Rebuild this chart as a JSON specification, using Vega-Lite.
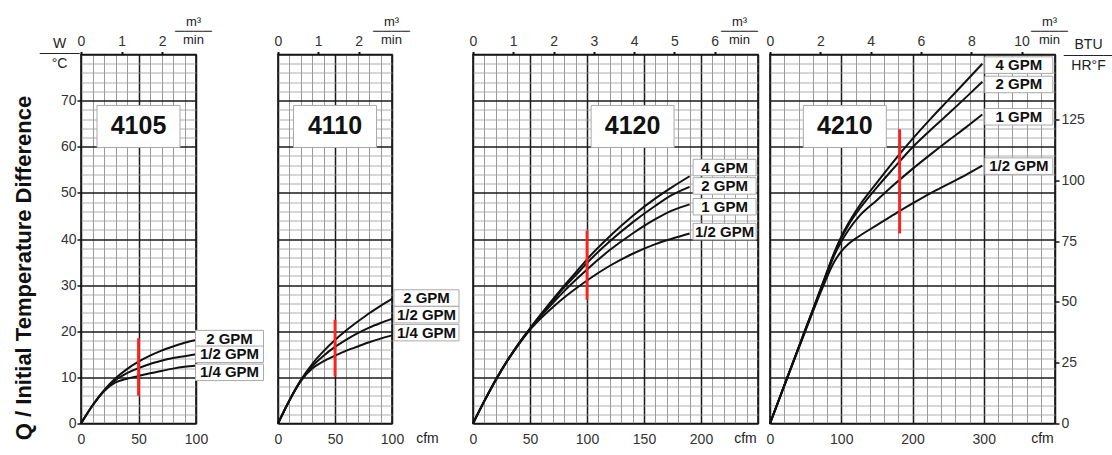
{
  "$schema": "https://vega.github.io/schema/vega-lite/v6.json",
  "padding": {"left": 11, "top": 13.5, "right": 0, "bottom": 0},
  "background": "white",
  "config": {
    "font": "Liberation Sans",
    "view": {"stroke": "#111", "strokeWidth": 1.6},
    "axis": {"labelFont": "Liberation Sans", "titleFont": "Liberation Sans", "labelColor": "#333", "titleColor": "#222", "labelFontSize": 14, "labelFlush": false, "labelOverlap": false, "domain": false}
  },
  "datasets": {
    "curves": [
      {"panel":"4105","flow":"2 GPM","cfm":0,"q":0},{"panel":"4105","flow":"2 GPM","cfm":10,"q":3.9},{"panel":"4105","flow":"2 GPM","cfm":20,"q":7.2},{"panel":"4105","flow":"2 GPM","cfm":30,"q":9.8},{"panel":"4105","flow":"2 GPM","cfm":40,"q":11.8},{"panel":"4105","flow":"2 GPM","cfm":50,"q":13.4},{"panel":"4105","flow":"2 GPM","cfm":60,"q":14.7},{"panel":"4105","flow":"2 GPM","cfm":70,"q":15.8},{"panel":"4105","flow":"2 GPM","cfm":80,"q":16.7},{"panel":"4105","flow":"2 GPM","cfm":90,"q":17.5},{"panel":"4105","flow":"2 GPM","cfm":100,"q":18.1},
      {"panel":"4105","flow":"1/2 GPM","cfm":0,"q":0},{"panel":"4105","flow":"1/2 GPM","cfm":10,"q":3.9},{"panel":"4105","flow":"1/2 GPM","cfm":20,"q":7.1},{"panel":"4105","flow":"1/2 GPM","cfm":30,"q":9.4},{"panel":"4105","flow":"1/2 GPM","cfm":40,"q":10.9},{"panel":"4105","flow":"1/2 GPM","cfm":50,"q":12.0},{"panel":"4105","flow":"1/2 GPM","cfm":60,"q":12.9},{"panel":"4105","flow":"1/2 GPM","cfm":70,"q":13.6},{"panel":"4105","flow":"1/2 GPM","cfm":80,"q":14.2},{"panel":"4105","flow":"1/2 GPM","cfm":90,"q":14.6},{"panel":"4105","flow":"1/2 GPM","cfm":100,"q":15.0},
      {"panel":"4105","flow":"1/4 GPM","cfm":0,"q":0},{"panel":"4105","flow":"1/4 GPM","cfm":10,"q":3.9},{"panel":"4105","flow":"1/4 GPM","cfm":20,"q":7.0},{"panel":"4105","flow":"1/4 GPM","cfm":30,"q":8.9},{"panel":"4105","flow":"1/4 GPM","cfm":40,"q":9.7},{"panel":"4105","flow":"1/4 GPM","cfm":50,"q":10.3},{"panel":"4105","flow":"1/4 GPM","cfm":60,"q":10.9},{"panel":"4105","flow":"1/4 GPM","cfm":70,"q":11.4},{"panel":"4105","flow":"1/4 GPM","cfm":80,"q":11.9},{"panel":"4105","flow":"1/4 GPM","cfm":90,"q":12.3},{"panel":"4105","flow":"1/4 GPM","cfm":100,"q":12.6},
      {"panel":"4110","flow":"2 GPM","cfm":0,"q":0},{"panel":"4110","flow":"2 GPM","cfm":10,"q":5.0},{"panel":"4110","flow":"2 GPM","cfm":20,"q":9.4},{"panel":"4110","flow":"2 GPM","cfm":30,"q":12.9},{"panel":"4110","flow":"2 GPM","cfm":40,"q":15.7},{"panel":"4110","flow":"2 GPM","cfm":50,"q":18.1},{"panel":"4110","flow":"2 GPM","cfm":60,"q":20.2},{"panel":"4110","flow":"2 GPM","cfm":70,"q":22.1},{"panel":"4110","flow":"2 GPM","cfm":80,"q":23.9},{"panel":"4110","flow":"2 GPM","cfm":90,"q":25.5},{"panel":"4110","flow":"2 GPM","cfm":100,"q":27.0},
      {"panel":"4110","flow":"1/2 GPM","cfm":0,"q":0},{"panel":"4110","flow":"1/2 GPM","cfm":10,"q":5.0},{"panel":"4110","flow":"1/2 GPM","cfm":20,"q":9.3},{"panel":"4110","flow":"1/2 GPM","cfm":30,"q":12.4},{"panel":"4110","flow":"1/2 GPM","cfm":40,"q":14.7},{"panel":"4110","flow":"1/2 GPM","cfm":50,"q":16.6},{"panel":"4110","flow":"1/2 GPM","cfm":60,"q":18.2},{"panel":"4110","flow":"1/2 GPM","cfm":70,"q":19.6},{"panel":"4110","flow":"1/2 GPM","cfm":80,"q":20.8},{"panel":"4110","flow":"1/2 GPM","cfm":90,"q":21.8},{"panel":"4110","flow":"1/2 GPM","cfm":100,"q":22.7},
      {"panel":"4110","flow":"1/4 GPM","cfm":0,"q":0},{"panel":"4110","flow":"1/4 GPM","cfm":10,"q":5.0},{"panel":"4110","flow":"1/4 GPM","cfm":20,"q":9.2},{"panel":"4110","flow":"1/4 GPM","cfm":30,"q":11.9},{"panel":"4110","flow":"1/4 GPM","cfm":40,"q":13.5},{"panel":"4110","flow":"1/4 GPM","cfm":50,"q":14.7},{"panel":"4110","flow":"1/4 GPM","cfm":60,"q":15.8},{"panel":"4110","flow":"1/4 GPM","cfm":70,"q":16.7},{"panel":"4110","flow":"1/4 GPM","cfm":80,"q":17.6},{"panel":"4110","flow":"1/4 GPM","cfm":90,"q":18.4},{"panel":"4110","flow":"1/4 GPM","cfm":100,"q":19.1},
      {"panel":"4120","flow":"4 GPM","cfm":0,"q":0},{"panel":"4120","flow":"4 GPM","cfm":10,"q":4.9},{"panel":"4120","flow":"4 GPM","cfm":20,"q":9.5},{"panel":"4120","flow":"4 GPM","cfm":30,"q":13.6},{"panel":"4120","flow":"4 GPM","cfm":40,"q":17.3},{"panel":"4120","flow":"4 GPM","cfm":50,"q":20.6},{"panel":"4120","flow":"4 GPM","cfm":60,"q":23.8},{"panel":"4120","flow":"4 GPM","cfm":70,"q":26.9},{"panel":"4120","flow":"4 GPM","cfm":80,"q":29.9},{"panel":"4120","flow":"4 GPM","cfm":90,"q":32.7},{"panel":"4120","flow":"4 GPM","cfm":100,"q":35.6},{"panel":"4120","flow":"4 GPM","cfm":120,"q":40.6},{"panel":"4120","flow":"4 GPM","cfm":140,"q":45.0},{"panel":"4120","flow":"4 GPM","cfm":160,"q":48.8},{"panel":"4120","flow":"4 GPM","cfm":175,"q":51.3},{"panel":"4120","flow":"4 GPM","cfm":190,"q":53.6},
      {"panel":"4120","flow":"2 GPM","cfm":0,"q":0},{"panel":"4120","flow":"2 GPM","cfm":10,"q":4.9},{"panel":"4120","flow":"2 GPM","cfm":20,"q":9.5},{"panel":"4120","flow":"2 GPM","cfm":30,"q":13.6},{"panel":"4120","flow":"2 GPM","cfm":40,"q":17.3},{"panel":"4120","flow":"2 GPM","cfm":50,"q":20.6},{"panel":"4120","flow":"2 GPM","cfm":60,"q":23.7},{"panel":"4120","flow":"2 GPM","cfm":70,"q":26.6},{"panel":"4120","flow":"2 GPM","cfm":80,"q":29.5},{"panel":"4120","flow":"2 GPM","cfm":90,"q":32.1},{"panel":"4120","flow":"2 GPM","cfm":100,"q":34.8},{"panel":"4120","flow":"2 GPM","cfm":120,"q":39.5},{"panel":"4120","flow":"2 GPM","cfm":140,"q":43.6},{"panel":"4120","flow":"2 GPM","cfm":160,"q":47.2},{"panel":"4120","flow":"2 GPM","cfm":175,"q":49.6},{"panel":"4120","flow":"2 GPM","cfm":190,"q":51.3},
      {"panel":"4120","flow":"1 GPM","cfm":0,"q":0},{"panel":"4120","flow":"1 GPM","cfm":10,"q":4.9},{"panel":"4120","flow":"1 GPM","cfm":20,"q":9.5},{"panel":"4120","flow":"1 GPM","cfm":30,"q":13.6},{"panel":"4120","flow":"1 GPM","cfm":40,"q":17.2},{"panel":"4120","flow":"1 GPM","cfm":50,"q":20.5},{"panel":"4120","flow":"1 GPM","cfm":60,"q":23.4},{"panel":"4120","flow":"1 GPM","cfm":70,"q":26.1},{"panel":"4120","flow":"1 GPM","cfm":80,"q":28.7},{"panel":"4120","flow":"1 GPM","cfm":90,"q":31.1},{"panel":"4120","flow":"1 GPM","cfm":100,"q":33.4},{"panel":"4120","flow":"1 GPM","cfm":120,"q":37.6},{"panel":"4120","flow":"1 GPM","cfm":140,"q":41.2},{"panel":"4120","flow":"1 GPM","cfm":160,"q":44.3},{"panel":"4120","flow":"1 GPM","cfm":175,"q":46.2},{"panel":"4120","flow":"1 GPM","cfm":190,"q":47.5},
      {"panel":"4120","flow":"1/2 GPM","cfm":0,"q":0},{"panel":"4120","flow":"1/2 GPM","cfm":10,"q":4.9},{"panel":"4120","flow":"1/2 GPM","cfm":20,"q":9.4},{"panel":"4120","flow":"1/2 GPM","cfm":30,"q":13.5},{"panel":"4120","flow":"1/2 GPM","cfm":40,"q":17.1},{"panel":"4120","flow":"1/2 GPM","cfm":50,"q":20.3},{"panel":"4120","flow":"1/2 GPM","cfm":60,"q":22.9},{"panel":"4120","flow":"1/2 GPM","cfm":70,"q":25.2},{"panel":"4120","flow":"1/2 GPM","cfm":80,"q":27.3},{"panel":"4120","flow":"1/2 GPM","cfm":90,"q":29.2},{"panel":"4120","flow":"1/2 GPM","cfm":100,"q":31.0},{"panel":"4120","flow":"1/2 GPM","cfm":120,"q":34.2},{"panel":"4120","flow":"1/2 GPM","cfm":140,"q":36.8},{"panel":"4120","flow":"1/2 GPM","cfm":160,"q":38.9},{"panel":"4120","flow":"1/2 GPM","cfm":175,"q":40.1},{"panel":"4120","flow":"1/2 GPM","cfm":190,"q":41.2},
      {"panel":"4210","flow":"4 GPM","cfm":0,"q":0},{"panel":"4210","flow":"4 GPM","cfm":25,"q":10.3},{"panel":"4210","flow":"4 GPM","cfm":50,"q":20.5},{"panel":"4210","flow":"4 GPM","cfm":75,"q":30.8},{"panel":"4210","flow":"4 GPM","cfm":90,"q":37.0},{"panel":"4210","flow":"4 GPM","cfm":100,"q":40.5},{"panel":"4210","flow":"4 GPM","cfm":110,"q":43.4},{"panel":"4210","flow":"4 GPM","cfm":125,"q":47.1},{"panel":"4210","flow":"4 GPM","cfm":150,"q":52.2},{"panel":"4210","flow":"4 GPM","cfm":175,"q":57.1},{"panel":"4210","flow":"4 GPM","cfm":200,"q":61.7},{"panel":"4210","flow":"4 GPM","cfm":225,"q":66.0},{"panel":"4210","flow":"4 GPM","cfm":250,"q":70.1},{"panel":"4210","flow":"4 GPM","cfm":275,"q":74.2},{"panel":"4210","flow":"4 GPM","cfm":298,"q":78.0},
      {"panel":"4210","flow":"2 GPM","cfm":0,"q":0},{"panel":"4210","flow":"2 GPM","cfm":25,"q":10.3},{"panel":"4210","flow":"2 GPM","cfm":50,"q":20.5},{"panel":"4210","flow":"2 GPM","cfm":75,"q":30.7},{"panel":"4210","flow":"2 GPM","cfm":90,"q":36.8},{"panel":"4210","flow":"2 GPM","cfm":100,"q":40.2},{"panel":"4210","flow":"2 GPM","cfm":110,"q":43.0},{"panel":"4210","flow":"2 GPM","cfm":125,"q":46.4},{"panel":"4210","flow":"2 GPM","cfm":150,"q":51.2},{"panel":"4210","flow":"2 GPM","cfm":175,"q":55.6},{"panel":"4210","flow":"2 GPM","cfm":200,"q":59.9},{"panel":"4210","flow":"2 GPM","cfm":225,"q":63.6},{"panel":"4210","flow":"2 GPM","cfm":250,"q":67.1},{"panel":"4210","flow":"2 GPM","cfm":275,"q":70.7},{"panel":"4210","flow":"2 GPM","cfm":298,"q":74.1},
      {"panel":"4210","flow":"1 GPM","cfm":0,"q":0},{"panel":"4210","flow":"1 GPM","cfm":25,"q":10.2},{"panel":"4210","flow":"1 GPM","cfm":50,"q":20.4},{"panel":"4210","flow":"1 GPM","cfm":75,"q":30.4},{"panel":"4210","flow":"1 GPM","cfm":90,"q":36.4},{"panel":"4210","flow":"1 GPM","cfm":100,"q":39.4},{"panel":"4210","flow":"1 GPM","cfm":110,"q":41.9},{"panel":"4210","flow":"1 GPM","cfm":125,"q":44.9},{"panel":"4210","flow":"1 GPM","cfm":150,"q":48.4},{"panel":"4210","flow":"1 GPM","cfm":175,"q":51.9},{"panel":"4210","flow":"1 GPM","cfm":200,"q":55.2},{"panel":"4210","flow":"1 GPM","cfm":225,"q":58.3},{"panel":"4210","flow":"1 GPM","cfm":250,"q":61.3},{"panel":"4210","flow":"1 GPM","cfm":275,"q":64.2},{"panel":"4210","flow":"1 GPM","cfm":298,"q":67.0},
      {"panel":"4210","flow":"1/2 GPM","cfm":0,"q":0},{"panel":"4210","flow":"1/2 GPM","cfm":25,"q":10.2},{"panel":"4210","flow":"1/2 GPM","cfm":50,"q":20.2},{"panel":"4210","flow":"1/2 GPM","cfm":75,"q":29.9},{"panel":"4210","flow":"1/2 GPM","cfm":90,"q":35.0},{"panel":"4210","flow":"1/2 GPM","cfm":100,"q":37.3},{"panel":"4210","flow":"1/2 GPM","cfm":110,"q":38.9},{"panel":"4210","flow":"1/2 GPM","cfm":125,"q":40.6},{"panel":"4210","flow":"1/2 GPM","cfm":150,"q":43.0},{"panel":"4210","flow":"1/2 GPM","cfm":175,"q":45.4},{"panel":"4210","flow":"1/2 GPM","cfm":200,"q":47.7},{"panel":"4210","flow":"1/2 GPM","cfm":225,"q":49.9},{"panel":"4210","flow":"1/2 GPM","cfm":250,"q":51.9},{"panel":"4210","flow":"1/2 GPM","cfm":275,"q":53.9},{"panel":"4210","flow":"1/2 GPM","cfm":298,"q":55.9}
    ],
    "labels": [
      {"panel":"4105","flow":"2 GPM","cfm":100,"q":18.4},{"panel":"4105","flow":"1/2 GPM","cfm":100,"q":15.0},{"panel":"4105","flow":"1/4 GPM","cfm":100,"q":11.1},
      {"panel":"4110","flow":"2 GPM","cfm":100,"q":27.2},{"panel":"4110","flow":"1/2 GPM","cfm":100,"q":23.6},{"panel":"4110","flow":"1/4 GPM","cfm":100,"q":19.7},
      {"panel":"4120","flow":"4 GPM","cfm":190,"q":55.5},{"panel":"4120","flow":"2 GPM","cfm":190,"q":51.5},{"panel":"4120","flow":"1 GPM","cfm":190,"q":47.0},{"panel":"4120","flow":"1/2 GPM","cfm":190,"q":41.6},
      {"panel":"4210","flow":"4 GPM","cfm":298,"q":77.7},{"panel":"4210","flow":"2 GPM","cfm":298,"q":73.5},{"panel":"4210","flow":"1 GPM","cfm":298,"q":66.5},{"panel":"4210","flow":"1/2 GPM","cfm":298,"q":55.8}
    ],
    "models": [
      {"panel":"4105","cfm":50,"q":64.4},{"panel":"4110","cfm":50,"q":64.4},{"panel":"4120","cfm":140,"q":64.4},{"panel":"4210","cfm":105,"q":64.4}
    ],
    "markers": [
      {"panel":"4105","cfm":50,"q_low":6.0,"q_high":18.5},{"panel":"4110","cfm":50,"q_low":10.2,"q_high":22.5},{"panel":"4120","cfm":100,"q_low":26.8,"q_high":41.8},{"panel":"4210","cfm":182,"q_low":41.2,"q_high":63.8}
    ]
  },
  "spacing": 6,
  "hconcat": [
    {
      "width": 115, "height": 369,
      "resolve": {"axis": {"x": "independent", "y": "independent"}},
      "layer": [
        {
          "data": {"name": "curves"}, "transform": [{"filter": "datum.panel === '4105'"}],
          "mark": {"type": "line", "color": "#111", "strokeWidth": 2, "interpolate": "monotone"},
          "encoding": {
            "x": {"field": "cfm", "type": "quantitative", "scale": {"domain": [0, 100], "nice": false},
              "axis": {"orient": "bottom", "values": [0,10,20,30,40,50,60,70,80,90,100], "labelExpr": "datum.value % 50 === 0 ? datum.label : ''", "ticks": false, "labelPadding": 9,
                "grid": true, "gridColor": {"condition": {"test": "datum.value % 50 === 0", "value": "#1a1a1a"}, "value": "#808080"}, "gridWidth": {"condition": {"test": "datum.value % 50 === 0", "value": 1.5}, "value": 0.8},
                "title": ["W", "────", "°C"], "titleAngle": 0, "titleX": -22, "titleY": -387, "titleAlign": "center", "titleBaseline": "top", "titleFontSize": 14, "titleFontWeight": "normal", "titleLineHeight": 10}},
            "y": {"field": "q", "type": "quantitative", "scale": {"domain": [0, 80], "nice": false},
              "axis": {"values": [0,2,4,6,8,10,12,14,16,18,20,22,24,26,28,30,32,34,36,38,40,42,44,46,48,50,52,54,56,58,60,62,64,66,68,70,72,74,76,78,80], "labelExpr": "datum.value % 10 === 0 && datum.value < 80 ? datum.label : ''", "labelPadding": 1, "tickSize": 4, "tickWidth": 1.5,
                "tickColor": {"condition": {"test": "datum.value % 10 === 0 && datum.value < 80", "value": "#111"}, "value": "transparent"},
                "grid": true, "gridColor": {"condition": {"test": "datum.value % 10 === 0", "value": "#1a1a1a"}, "value": "#9a9a9a"}, "gridWidth": {"condition": {"test": "datum.value % 10 === 0", "value": 1.5}, "value": 0.8},
                "title": "Q / Initial Temperature Difference", "titleFont": "Liberation Sans", "titleFontSize": 22, "titleFontWeight": "bold", "titleColor": "#111", "titleAngle": -90, "titleX": -58, "titleY": 213, "titleAlign": "center", "titleBaseline": "middle"}},
            "detail": {"field": "flow"}
          }
        },
        {
          "data": {"name": "markers"}, "transform": [{"filter": "datum.panel === '4105'"}],
          "mark": {"type": "rule", "color": "#ff2020", "strokeWidth": 2.8},
          "encoding": {
            "x": {"field": "cfm", "type": "quantitative", "scale": {"domain": [0, 100], "nice": false},
              "axis": {"orient": "top", "values": [0, 35.3147, 70.6294], "labelExpr": "round(datum.value / 35.3147)", "grid": false, "tickSize": 3, "tickWidth": 2, "tickColor": "#111", "labelPadding": 3,
                "title": ["m³", "────", "min"], "titleAngle": 0, "titleX": 112, "titleY": -39.5, "titleAlign": "center", "titleBaseline": "top", "titleFontSize": 13, "titleFontWeight": "normal", "titleLineHeight": 9}},
            "y": {"field": "q_low", "type": "quantitative", "scale": {"domain": [0, 80], "nice": false}, "axis": null},
            "y2": {"field": "q_high"}
          }
        },
        {
          "data": {"name": "labels"}, "transform": [{"filter": "datum.panel === '4105'"}],
          "mark": {"type": "point", "shape": "M-1,-0.243H1V0.243H-1Z", "size": 4624, "filled": true, "fill": "white", "stroke": "#aaaaaa", "strokeWidth": 1, "opacity": 1, "xOffset": 33.5},
          "encoding": {
            "x": {"field": "cfm", "type": "quantitative", "scale": {"domain": [0, 100], "nice": false}, "axis": null},
            "y": {"field": "q", "type": "quantitative", "scale": {"domain": [0, 80], "nice": false}, "axis": null}
          }
        },
        {
          "data": {"name": "labels"}, "transform": [{"filter": "datum.panel === '4105'"}],
          "mark": {"type": "text", "fontSize": 15, "fontWeight": "bold", "color": "#111", "align": "center", "baseline": "middle", "xOffset": 33.5},
          "encoding": {
            "x": {"field": "cfm", "type": "quantitative", "scale": {"domain": [0, 100], "nice": false}, "axis": null},
            "y": {"field": "q", "type": "quantitative", "scale": {"domain": [0, 80], "nice": false}, "axis": null},
            "text": {"field": "flow"}
          }
        },
        {
          "data": {"name": "models"}, "transform": [{"filter": "datum.panel === '4105'"}],
          "mark": {"type": "point", "shape": "M-1,-0.506H1V0.506H-1Z", "size": 6889, "filled": true, "fill": "white", "stroke": "#aaaaaa", "strokeWidth": 1, "opacity": 1},
          "encoding": {
            "x": {"field": "cfm", "type": "quantitative", "scale": {"domain": [0, 100], "nice": false}, "axis": null},
            "y": {"field": "q", "type": "quantitative", "scale": {"domain": [0, 80], "nice": false}, "axis": null}
          }
        },
        {
          "data": {"name": "models"}, "transform": [{"filter": "datum.panel === '4105'"}],
          "mark": {"type": "text", "fontSize": 25, "fontWeight": "bold", "color": "#111", "align": "center", "baseline": "middle"},
          "encoding": {
            "x": {"field": "cfm", "type": "quantitative", "scale": {"domain": [0, 100], "nice": false}, "axis": null},
            "y": {"field": "q", "type": "quantitative", "scale": {"domain": [0, 80], "nice": false}, "axis": null},
            "text": {"field": "panel"}
          }
        }
      ]
    },
    {
      "width": 114, "height": 369,
      "resolve": {"axis": {"x": "independent", "y": "independent"}},
      "layer": [
        {
          "data": {"name": "curves"}, "transform": [{"filter": "datum.panel === '4110'"}],
          "mark": {"type": "line", "color": "#111", "strokeWidth": 2, "interpolate": "monotone"},
          "encoding": {
            "x": {"field": "cfm", "type": "quantitative", "scale": {"domain": [0, 100], "nice": false},
              "axis": {"orient": "bottom", "values": [0,10,20,30,40,50,60,70,80,90,100], "labelExpr": "datum.value % 50 === 0 ? datum.label : ''", "ticks": false, "labelPadding": 9,
                "grid": true, "gridColor": {"condition": {"test": "datum.value % 50 === 0", "value": "#1a1a1a"}, "value": "#808080"}, "gridWidth": {"condition": {"test": "datum.value % 50 === 0", "value": 1.5}, "value": 0.8},
                "title": "cfm", "titleAngle": 0, "titleX": 149, "titleY": 15, "titleAlign": "center", "titleBaseline": "middle", "titleFontSize": 14, "titleFontWeight": "normal"}},
            "y": {"field": "q", "type": "quantitative", "scale": {"domain": [0, 80], "nice": false},
              "axis": {"values": [0,2,4,6,8,10,12,14,16,18,20,22,24,26,28,30,32,34,36,38,40,42,44,46,48,50,52,54,56,58,60,62,64,66,68,70,72,74,76,78,80], "labels": false, "ticks": false, "title": null,
                "grid": true, "gridColor": {"condition": {"test": "datum.value % 10 === 0", "value": "#1a1a1a"}, "value": "#9a9a9a"}, "gridWidth": {"condition": {"test": "datum.value % 10 === 0", "value": 1.5}, "value": 0.8}}},
            "detail": {"field": "flow"}
          }
        },
        {
          "data": {"name": "markers"}, "transform": [{"filter": "datum.panel === '4110'"}],
          "mark": {"type": "rule", "color": "#ff2020", "strokeWidth": 2.8},
          "encoding": {
            "x": {"field": "cfm", "type": "quantitative", "scale": {"domain": [0, 100], "nice": false},
              "axis": {"orient": "top", "values": [0, 35.3147, 70.6294], "labelExpr": "round(datum.value / 35.3147)", "grid": false, "tickSize": 3, "tickWidth": 2, "tickColor": "#111", "labelPadding": 3,
                "title": ["m³", "────", "min"], "titleAngle": 0, "titleX": 113, "titleY": -39.5, "titleAlign": "center", "titleBaseline": "top", "titleFontSize": 13, "titleFontWeight": "normal", "titleLineHeight": 9}},
            "y": {"field": "q_low", "type": "quantitative", "scale": {"domain": [0, 80], "nice": false}, "axis": null},
            "y2": {"field": "q_high"}
          }
        },
        {
          "data": {"name": "labels"}, "transform": [{"filter": "datum.panel === '4110'"}],
          "mark": {"type": "point", "shape": "M-1,-0.254H1V0.254H-1Z", "size": 4225, "filled": true, "fill": "white", "stroke": "#aaaaaa", "strokeWidth": 1, "opacity": 1, "xOffset": 34.5},
          "encoding": {
            "x": {"field": "cfm", "type": "quantitative", "scale": {"domain": [0, 100], "nice": false}, "axis": null},
            "y": {"field": "q", "type": "quantitative", "scale": {"domain": [0, 80], "nice": false}, "axis": null}
          }
        },
        {
          "data": {"name": "labels"}, "transform": [{"filter": "datum.panel === '4110'"}],
          "mark": {"type": "text", "fontSize": 15, "fontWeight": "bold", "color": "#111", "align": "center", "baseline": "middle", "xOffset": 34.5},
          "encoding": {
            "x": {"field": "cfm", "type": "quantitative", "scale": {"domain": [0, 100], "nice": false}, "axis": null},
            "y": {"field": "q", "type": "quantitative", "scale": {"domain": [0, 80], "nice": false}, "axis": null},
            "text": {"field": "flow"}
          }
        },
        {
          "data": {"name": "models"}, "transform": [{"filter": "datum.panel === '4110'"}],
          "mark": {"type": "point", "shape": "M-1,-0.506H1V0.506H-1Z", "size": 6889, "filled": true, "fill": "white", "stroke": "#aaaaaa", "strokeWidth": 1, "opacity": 1},
          "encoding": {
            "x": {"field": "cfm", "type": "quantitative", "scale": {"domain": [0, 100], "nice": false}, "axis": null},
            "y": {"field": "q", "type": "quantitative", "scale": {"domain": [0, 80], "nice": false}, "axis": null}
          }
        },
        {
          "data": {"name": "models"}, "transform": [{"filter": "datum.panel === '4110'"}],
          "mark": {"type": "text", "fontSize": 25, "fontWeight": "bold", "color": "#111", "align": "center", "baseline": "middle"},
          "encoding": {
            "x": {"field": "cfm", "type": "quantitative", "scale": {"domain": [0, 100], "nice": false}, "axis": null},
            "y": {"field": "q", "type": "quantitative", "scale": {"domain": [0, 80], "nice": false}, "axis": null},
            "text": {"field": "panel"}
          }
        }
      ]
    },
    {
      "width": 285, "height": 369,
      "resolve": {"axis": {"x": "independent", "y": "independent"}},
      "layer": [
        {
          "data": {"name": "curves"}, "transform": [{"filter": "datum.panel === '4120'"}],
          "mark": {"type": "line", "color": "#111", "strokeWidth": 2, "interpolate": "monotone"},
          "encoding": {
            "x": {"field": "cfm", "type": "quantitative", "scale": {"domain": [0, 250], "nice": false},
              "axis": {"orient": "bottom", "values": [0,10,20,30,40,50,60,70,80,90,100,110,120,130,140,150,160,170,180,190,200,210,220,230,240,250], "labelExpr": "datum.value % 50 === 0 && datum.value < 250 ? datum.label : ''", "ticks": false, "labelPadding": 9,
                "grid": true, "gridColor": {"condition": {"test": "datum.value % 50 === 0", "value": "#1a1a1a"}, "value": "#808080"}, "gridWidth": {"condition": {"test": "datum.value % 50 === 0", "value": 1.5}, "value": 0.8},
                "title": "cfm", "titleAngle": 0, "titleX": 272, "titleY": 15, "titleAlign": "center", "titleBaseline": "middle", "titleFontSize": 14, "titleFontWeight": "normal"}},
            "y": {"field": "q", "type": "quantitative", "scale": {"domain": [0, 80], "nice": false},
              "axis": {"values": [0,2,4,6,8,10,12,14,16,18,20,22,24,26,28,30,32,34,36,38,40,42,44,46,48,50,52,54,56,58,60,62,64,66,68,70,72,74,76,78,80], "labels": false, "ticks": false, "title": null,
                "grid": true, "gridColor": {"condition": {"test": "datum.value % 10 === 0", "value": "#1a1a1a"}, "value": "#9a9a9a"}, "gridWidth": {"condition": {"test": "datum.value % 10 === 0", "value": 1.5}, "value": 0.8}}},
            "detail": {"field": "flow"}
          }
        },
        {
          "data": {"name": "markers"}, "transform": [{"filter": "datum.panel === '4120'"}],
          "mark": {"type": "rule", "color": "#ff2020", "strokeWidth": 2.8},
          "encoding": {
            "x": {"field": "cfm", "type": "quantitative", "scale": {"domain": [0, 250], "nice": false},
              "axis": {"orient": "top", "values": [0, 35.3147, 70.6294, 105.9441, 141.2588, 176.5735, 211.8882], "labelExpr": "round(datum.value / 35.3147)", "grid": false, "tickSize": 3, "tickWidth": 2, "tickColor": "#111", "labelPadding": 3,
                "title": ["m³", "────", "min"], "titleAngle": 0, "titleX": 266, "titleY": -39.5, "titleAlign": "center", "titleBaseline": "top", "titleFontSize": 13, "titleFontWeight": "normal", "titleLineHeight": 9}},
            "y": {"field": "q_low", "type": "quantitative", "scale": {"domain": [0, 80], "nice": false}, "axis": null},
            "y2": {"field": "q_high"}
          }
        },
        {
          "data": {"name": "labels"}, "transform": [{"filter": "datum.panel === '4120'"}],
          "mark": {"type": "point", "shape": "M-1,-0.262H1V0.262H-1Z", "size": 3969, "filled": true, "fill": "white", "stroke": "#aaaaaa", "strokeWidth": 1, "opacity": 1, "xOffset": 35},
          "encoding": {
            "x": {"field": "cfm", "type": "quantitative", "scale": {"domain": [0, 250], "nice": false}, "axis": null},
            "y": {"field": "q", "type": "quantitative", "scale": {"domain": [0, 80], "nice": false}, "axis": null}
          }
        },
        {
          "data": {"name": "labels"}, "transform": [{"filter": "datum.panel === '4120'"}],
          "mark": {"type": "text", "fontSize": 15, "fontWeight": "bold", "color": "#111", "align": "center", "baseline": "middle", "xOffset": 35},
          "encoding": {
            "x": {"field": "cfm", "type": "quantitative", "scale": {"domain": [0, 250], "nice": false}, "axis": null},
            "y": {"field": "q", "type": "quantitative", "scale": {"domain": [0, 80], "nice": false}, "axis": null},
            "text": {"field": "flow"}
          }
        },
        {
          "data": {"name": "models"}, "transform": [{"filter": "datum.panel === '4120'"}],
          "mark": {"type": "point", "shape": "M-1,-0.506H1V0.506H-1Z", "size": 6889, "filled": true, "fill": "white", "stroke": "#aaaaaa", "strokeWidth": 1, "opacity": 1},
          "encoding": {
            "x": {"field": "cfm", "type": "quantitative", "scale": {"domain": [0, 250], "nice": false}, "axis": null},
            "y": {"field": "q", "type": "quantitative", "scale": {"domain": [0, 80], "nice": false}, "axis": null}
          }
        },
        {
          "data": {"name": "models"}, "transform": [{"filter": "datum.panel === '4120'"}],
          "mark": {"type": "text", "fontSize": 25, "fontWeight": "bold", "color": "#111", "align": "center", "baseline": "middle"},
          "encoding": {
            "x": {"field": "cfm", "type": "quantitative", "scale": {"domain": [0, 250], "nice": false}, "axis": null},
            "y": {"field": "q", "type": "quantitative", "scale": {"domain": [0, 80], "nice": false}, "axis": null},
            "text": {"field": "panel"}
          }
        }
      ]
    },
    {
      "width": 285, "height": 369,
      "resolve": {"axis": {"x": "independent", "y": "independent"}},
      "layer": [
        {
          "data": {"name": "curves"}, "transform": [{"filter": "datum.panel === '4210'"}],
          "mark": {"type": "line", "color": "#111", "strokeWidth": 2, "interpolate": "monotone"},
          "encoding": {
            "x": {"field": "cfm", "type": "quantitative", "scale": {"domain": [0, 400], "nice": false},
              "axis": {"orient": "bottom", "values": [0,20,40,60,80,100,120,140,160,180,200,220,240,260,280,300,320,340,360,380,400], "labelExpr": "datum.value % 100 === 0 && datum.value < 400 ? datum.label : ''", "ticks": false, "labelPadding": 9,
                "grid": true, "gridColor": {"condition": {"test": "datum.value % 100 === 0", "value": "#1a1a1a"}, "value": "#808080"}, "gridWidth": {"condition": {"test": "datum.value % 100 === 0", "value": 1.5}, "value": 0.8},
                "title": "cfm", "titleAngle": 0, "titleX": 272, "titleY": 15, "titleAlign": "center", "titleBaseline": "middle", "titleFontSize": 14, "titleFontWeight": "normal"}},
            "y": {"field": "q", "type": "quantitative", "scale": {"domain": [0, 80], "nice": false},
              "axis": {"values": [0,2,4,6,8,10,12,14,16,18,20,22,24,26,28,30,32,34,36,38,40,42,44,46,48,50,52,54,56,58,60,62,64,66,68,70,72,74,76,78,80], "labels": false, "ticks": false, "title": null,
                "grid": true, "gridColor": {"condition": {"test": "datum.value % 10 === 0", "value": "#1a1a1a"}, "value": "#9a9a9a"}, "gridWidth": {"condition": {"test": "datum.value % 10 === 0", "value": 1.5}, "value": 0.8}}},
            "detail": {"field": "flow"}
          }
        },
        {
          "data": {"name": "markers"}, "transform": [{"filter": "datum.panel === '4210'"}],
          "mark": {"type": "rule", "color": "#ff2020", "strokeWidth": 2.8},
          "encoding": {
            "x": {"field": "cfm", "type": "quantitative", "scale": {"domain": [0, 400], "nice": false},
              "axis": {"orient": "top", "values": [0, 70.6294, 141.2588, 211.8882, 282.5176, 353.147], "labelExpr": "round(datum.value / 35.3147)", "grid": false, "tickSize": 3, "tickWidth": 2, "tickColor": "#111", "labelPadding": 3,
                "title": ["m³", "────", "min"], "titleAngle": 0, "titleX": 279, "titleY": -39.5, "titleAlign": "center", "titleBaseline": "top", "titleFontSize": 13, "titleFontWeight": "normal", "titleLineHeight": 9}},
            "y": {"field": "q_low", "type": "quantitative", "scale": {"domain": [0, 80], "nice": false},
              "axis": {"orient": "right", "values": [0, 13.188, 26.377, 39.565, 52.754, 65.942], "labelExpr": "round(datum.value * 1.895634)", "grid": false, "tickSize": 4, "tickWidth": 1.5, "tickColor": "#111", "labelPadding": 2,
                "title": ["BTU", "─────", "HR°F"], "titleAngle": 0, "titleX": 33, "titleY": -17, "titleAlign": "center", "titleBaseline": "top", "titleFontSize": 14, "titleFontWeight": "normal", "titleLineHeight": 10.5}},
            "y2": {"field": "q_high"}
          }
        },
        {
          "data": {"name": "labels"}, "transform": [{"filter": "datum.panel === '4210'"}],
          "mark": {"type": "point", "shape": "M-1,-0.243H1V0.243H-1Z", "size": 4624, "filled": true, "fill": "white", "stroke": "#aaaaaa", "strokeWidth": 1, "opacity": 1, "xOffset": 36.5},
          "encoding": {
            "x": {"field": "cfm", "type": "quantitative", "scale": {"domain": [0, 400], "nice": false}, "axis": null},
            "y": {"field": "q", "type": "quantitative", "scale": {"domain": [0, 80], "nice": false}, "axis": null}
          }
        },
        {
          "data": {"name": "labels"}, "transform": [{"filter": "datum.panel === '4210'"}],
          "mark": {"type": "text", "fontSize": 15, "fontWeight": "bold", "color": "#111", "align": "center", "baseline": "middle", "xOffset": 36.5},
          "encoding": {
            "x": {"field": "cfm", "type": "quantitative", "scale": {"domain": [0, 400], "nice": false}, "axis": null},
            "y": {"field": "q", "type": "quantitative", "scale": {"domain": [0, 80], "nice": false}, "axis": null},
            "text": {"field": "flow"}
          }
        },
        {
          "data": {"name": "models"}, "transform": [{"filter": "datum.panel === '4210'"}],
          "mark": {"type": "point", "shape": "M-1,-0.506H1V0.506H-1Z", "size": 6889, "filled": true, "fill": "white", "stroke": "#aaaaaa", "strokeWidth": 1, "opacity": 1},
          "encoding": {
            "x": {"field": "cfm", "type": "quantitative", "scale": {"domain": [0, 400], "nice": false}, "axis": null},
            "y": {"field": "q", "type": "quantitative", "scale": {"domain": [0, 80], "nice": false}, "axis": null}
          }
        },
        {
          "data": {"name": "models"}, "transform": [{"filter": "datum.panel === '4210'"}],
          "mark": {"type": "text", "fontSize": 25, "fontWeight": "bold", "color": "#111", "align": "center", "baseline": "middle"},
          "encoding": {
            "x": {"field": "cfm", "type": "quantitative", "scale": {"domain": [0, 400], "nice": false}, "axis": null},
            "y": {"field": "q", "type": "quantitative", "scale": {"domain": [0, 80], "nice": false}, "axis": null},
            "text": {"field": "panel"}
          }
        }
      ]
    }
  ]
}
